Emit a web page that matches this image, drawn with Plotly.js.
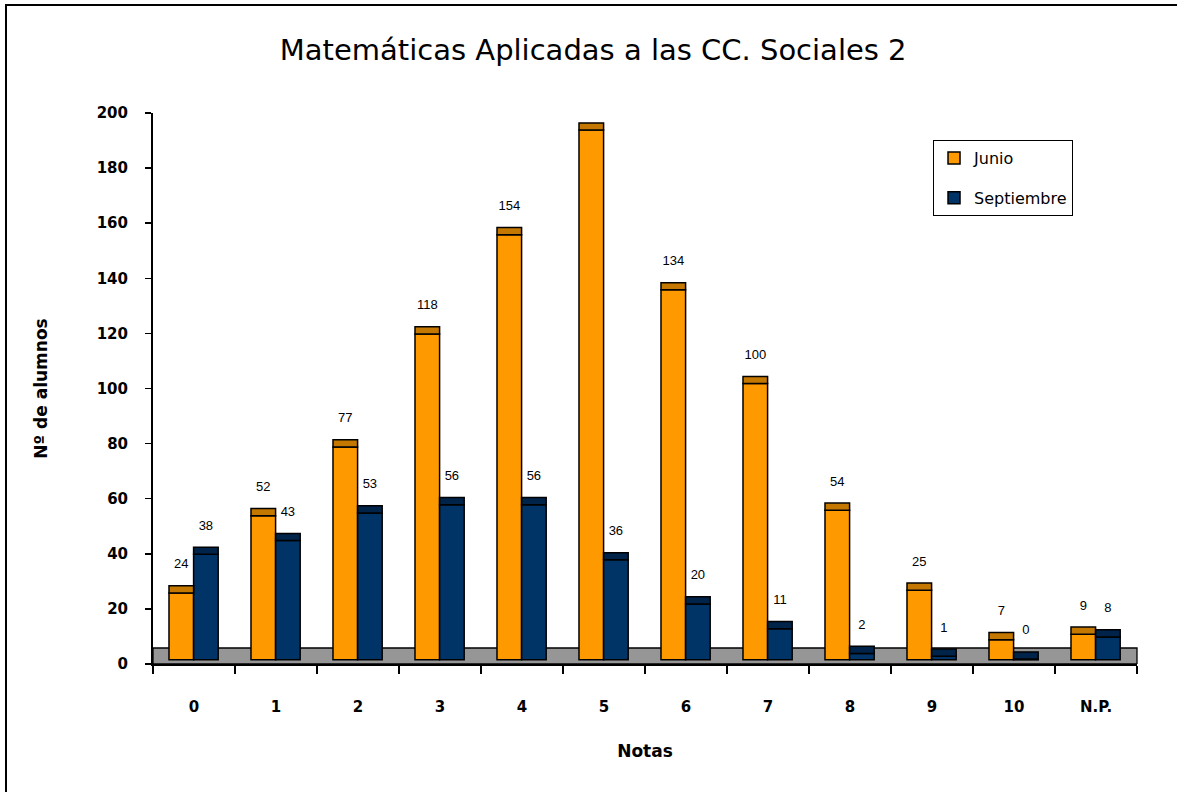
<!DOCTYPE html>
<html>
<head>
<meta charset="utf-8">
<script src="https://cdn.plot.ly/plotly-3.0.1.min.js"></script>
<style>
  html, body { margin: 0; padding: 0; background: #fff; }
  #chart { width: 1177px; height: 792px; }
  #frame { position: absolute; left: 5px; top: 4px; width: 1200px; height: 800px;
           border-left: 2.5px solid #000; border-top: 2px solid #000; pointer-events: none; }
</style>
</head>
<body>
<div id="chart"></div>
<div id="frame"></div>
<script>
// ---- data ----
const categories = ['0', '1', '2', '3', '4', '5', '6', '7', '8', '9', '10', 'N.P.'];
const junio      = [24, 52, 77, 118, 154, 192, 134, 100, 54, 25, 7, 9];
const septiembre = [38, 43, 53, 56, 56, 36, 20, 11, 2, 1, 0, 8];
const seriesNames = ['Junio', 'Septiembre'];

// ---- style constants (3D look of the original) ----
const BASE = 1.5;      // bar bottom sits slightly above the axis (floor depth)
const LIFT = 1.8;      // body top = value + LIFT
const CAP = 2.6;       // darker top cap height
const LABEL_GAP = 7.5; // label centre above cap top
const FLOOR_TOP = 5.8;

const pos = categories.map((_, i) => i);
const boundaries = categories.map((_, i) => i - 0.5).concat([categories.length - 0.5]);

function bodyTrace(vals, name, color, offset, group) {
  return {
    type: 'bar', x: pos, y: vals.map(v => v + LIFT - BASE), base: BASE,
    width: 0.3, offset: offset, name: name, legendgroup: group,
    marker: { color: color, line: { color: '#000', width: 1.5 } },
    hoverinfo: 'skip'
  };
}
function capTrace(vals, color, offset) {
  return {
    type: 'bar', x: pos, y: vals.map(() => CAP), base: vals.map(v => v + LIFT),
    width: 0.3, offset: offset, showlegend: false,
    marker: { color: color, line: { color: '#000', width: 1.5 } },
    hoverinfo: 'skip'
  };
}
function labelTrace(vals, shift) {
  return {
    type: 'scatter', mode: 'text', x: pos.map(i => i + shift),
    y: vals.map(v => v + LIFT + CAP + LABEL_GAP), text: vals.map(String),
    textposition: 'middle center', showlegend: false, hoverinfo: 'skip',
    textfont: { family: 'Liberation Sans, Arial, sans-serif', size: 13, color: '#000' },
    cliponaxis: false
  };
}

const traces = [
  bodyTrace(junio, seriesNames[0], '#FF9900', -0.305, 'j'),
  bodyTrace(septiembre, seriesNames[1], '#003366', -0.005, 's'),
  capTrace(junio, '#C47800', -0.305),
  capTrace(septiembre, '#00234A', -0.005),
  labelTrace(junio, -0.155),
  labelTrace(septiembre, 0.145)
];

const tickFont = { family: 'DejaVu Sans, sans-serif', size: 15, color: '#000', weight: 'bold' };

const layout = {
  width: 1177, height: 792,
  margin: { l: 153, r: 40, t: 113, b: 128 },
  paper_bgcolor: '#fff', plot_bgcolor: '#fff',
  barmode: 'overlay',
  showlegend: true,
  title: {
    text: 'Matemáticas Aplicadas a las CC. Sociales 2',
    font: { family: 'DejaVu Sans, sans-serif', size: 29, color: '#000' },
    xref: 'container', x: 0.504, xanchor: 'center',
    yref: 'container', y: 0.937, yanchor: 'middle'
  },
  xaxis: {
    range: [-0.5, categories.length - 0.5],
    tickmode: 'array', tickvals: pos, ticktext: categories,
    ticks: '', ticklabelstandoff: 28,
    tickfont: tickFont,
    showline: true, linecolor: '#000', linewidth: 2,
    showgrid: false, zeroline: false,
    minor: { tickmode: 'array', tickvals: boundaries, ticks: 'outside', ticklen: 8,
             tickwidth: 1.5, tickcolor: '#000', showgrid: false },
    title: { text: 'Notas', standoff: 30,
             font: { family: 'DejaVu Sans, sans-serif', size: 17, color: '#000', weight: 'bold' } },
    fixedrange: true
  },
  yaxis: {
    range: [0, 200], dtick: 20, tick0: 0,
    ticks: 'outside', ticklen: 6, tickwidth: 1.5, tickcolor: '#000',
    ticklabelstandoff: 14,
    tickfont: tickFont,
    showline: true, linecolor: '#000', linewidth: 2,
    showgrid: false, zeroline: false,
    title: { text: 'Nº de alumnos', standoff: 45,
             font: { family: 'DejaVu Sans, sans-serif', size: 17, color: '#000', weight: 'bold' } },
    fixedrange: true
  },
  legend: {
    x: 0.7927, y: 0.951, xanchor: 'left', yanchor: 'top',
    bgcolor: '#fff', bordercolor: '#000', borderwidth: 1,
    font: { family: 'DejaVu Sans, sans-serif', size: 16, color: '#000' },
    traceorder: 'grouped', tracegroupgap: 16, itemclick: false, itemdoubleclick: false
  },
  shapes: [{
    type: 'rect', layer: 'below', xref: 'x domain', yref: 'y',
    x0: 0, x1: 1, y0: 0, y1: FLOOR_TOP,
    fillcolor: '#969696', line: { color: '#000', width: 1.3 }
  }]
};

Plotly.newPlot('chart', traces, layout, { displayModeBar: false, staticPlot: true });
</script>
</body>
</html>
